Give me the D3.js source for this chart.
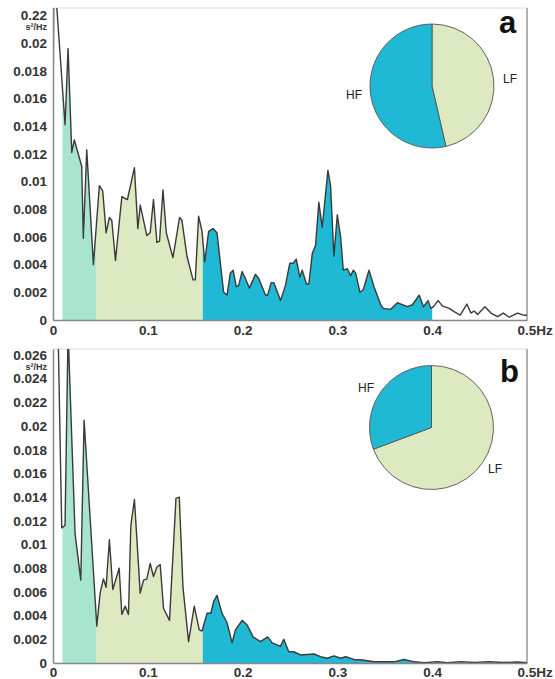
<!DOCTYPE html>
<html>
<head>
<meta charset="utf-8">
<script src="https://cdn.jsdelivr.net/npm/d3@7"></script>
<style>
  body { margin: 0; background: #fff; }
  text { font-family: "Liberation Sans", Arial, sans-serif; }
</style>
</head>
<body>
<script>
// spectrum a (frequency in Hz, PSD in s^2/Hz)
const freqA = [0, 0.001, 0.0127, 0.0159, 0.0198, 0.0225, 0.0303, 0.032, 0.0356, 0.0426, 0.0489, 0.0525, 0.056, 0.0595, 0.062, 0.0659, 0.0726, 0.0785, 0.0859, 0.0895, 0.092, 0.099, 0.1025, 0.106, 0.1096, 0.1124, 0.116, 0.1195, 0.1265, 0.1335, 0.136, 0.1413, 0.1477, 0.1501, 0.1536, 0.1572, 0.16, 0.1642, 0.1688, 0.173, 0.18, 0.1836, 0.1871, 0.19, 0.1934, 0.1959, 0.1995, 0.203, 0.2072, 0.2135, 0.217, 0.2241, 0.2265, 0.2301, 0.2329, 0.24, 0.2452, 0.2498, 0.2534, 0.2566, 0.2604, 0.2629, 0.2674, 0.2699, 0.2735, 0.277, 0.2804, 0.284, 0.29, 0.2928, 0.2963, 0.2999, 0.3034, 0.3062, 0.3105, 0.314, 0.3168, 0.3192, 0.3238, 0.3274, 0.3333, 0.3386, 0.3457, 0.3485, 0.3562, 0.3633, 0.3686, 0.3739, 0.3792, 0.3862, 0.3908, 0.3957, 0.3985, 0.4014, 0.4062, 0.4109, 0.4179, 0.4231, 0.4295, 0.4366, 0.4408, 0.4443, 0.4479, 0.4556, 0.462, 0.469, 0.475, 0.4813, 0.4902, 0.4971, 0.5];
const psdA = [0.0149, 0.0255, 0.0141, 0.0196, 0.0121, 0.013, 0.0111, 0.0059, 0.0123, 0.004, 0.0097, 0.0093, 0.0063, 0.0074, 0.0072, 0.0043, 0.0089, 0.0087, 0.011, 0.0066, 0.0083, 0.0061, 0.0063, 0.0087, 0.0056, 0.0057, 0.0094, 0.0063, 0.0045, 0.0074, 0.0072, 0.0046, 0.0029, 0.0029, 0.0075, 0.0064, 0.0042, 0.0064, 0.0066, 0.0063, 0.002, 0.0018, 0.0034, 0.0036, 0.0024, 0.0025, 0.0035, 0.003, 0.0023, 0.0033, 0.003, 0.0018, 0.0018, 0.0027, 0.0027, 0.0014, 0.0025, 0.0041, 0.0041, 0.0044, 0.0031, 0.0036, 0.0026, 0.0026, 0.0048, 0.0054, 0.0085, 0.0067, 0.0108, 0.0097, 0.0046, 0.0076, 0.006, 0.0036, 0.0037, 0.0032, 0.0036, 0.0034, 0.002, 0.0022, 0.0036, 0.0024, 0.0011, 0.00084, 0.00077, 0.00125, 0.0011, 0.00096, 0.0011, 0.0018, 0.00096, 0.0014, 0.00084, 0.00096, 0.0014, 0.001, 0.00084, 0.0006, 0.00036, 0.00115, 0.0005, 0.00065, 0.0004, 0.00096, 0.0005, 0.00024, 0.0005, 0.0002, 0.0005, 0.00034, 0.00034];

// spectrum b
const freqB = [0, 0.004, 0.0092, 0.0127, 0.0159, 0.0233, 0.0293, 0.0328, 0.0462, 0.0497, 0.0532, 0.056, 0.0595, 0.0631, 0.0698, 0.0726, 0.0761, 0.0796, 0.0821, 0.0859, 0.092, 0.0955, 0.099, 0.1025, 0.106, 0.1096, 0.1131, 0.1166, 0.1229, 0.1297, 0.1332, 0.1371, 0.143, 0.149, 0.1543, 0.1572, 0.1625, 0.1665, 0.1695, 0.173, 0.1783, 0.1836, 0.1889, 0.1924, 0.1995, 0.2048, 0.2111, 0.2188, 0.2265, 0.2312, 0.24, 0.2434, 0.2487, 0.254, 0.2611, 0.2752, 0.2822, 0.2893, 0.2963, 0.3034, 0.3087, 0.3174, 0.3263, 0.3386, 0.3597, 0.3703, 0.3809, 0.3914, 0.4056, 0.4162, 0.43, 0.445, 0.46, 0.475, 0.49, 0.5];
const psdB = [0.03, 0.034, 0.0114, 0.0116, 0.028, 0.0109, 0.007, 0.0205, 0.0031, 0.0059, 0.0071, 0.0064, 0.0104, 0.0062, 0.008, 0.0041, 0.0048, 0.0041, 0.0116, 0.0138, 0.0059, 0.007, 0.0071, 0.0084, 0.0073, 0.0081, 0.0083, 0.0046, 0.0036, 0.0139, 0.014, 0.0064, 0.0018, 0.0048, 0.0028, 0.0027, 0.0042, 0.0042, 0.0052, 0.0057, 0.0042, 0.0034, 0.0017, 0.0028, 0.0036, 0.0032, 0.0022, 0.0018, 0.0022, 0.0017, 0.0014, 0.002, 0.00095, 0.00095, 0.00068, 0.00076, 0.00053, 0.0004, 0.0006, 0.0004, 0.00053, 0.0003, 0.00025, 0.0001, 0.0001, 0.0003, 0.0001, 0.00003, 0.0001, 0.00003, 0.0001, 0.00005, 0.0001, 0.00004, 0.00008, 0.00003];

// frequency bands
const bandNames = ["VLF", "LF", "HF"];
const bandLo = [0.01, 0.046, 0.158];
const bandHi = [0.046, 0.158, 0.4];
const bandColors = ["#a8e5cf", "#dde9c0", "#1fb9d6"];

// pie shares (percent)
const pieLabels = ["LF", "HF"];
const pieA = [46.4, 53.6];
const pieB = [69.3, 30.7];
const pieColors = ["#dde9c0", "#1fb9d6"];

// ticks
const xTicks = [0, 0.1, 0.2, 0.3, 0.4, 0.5];
const xTickLabels = ["0", "0.1", "0.2", "0.3", "0.4", "0.5Hz"];
const yTicksA = [0, 0.002, 0.004, 0.006, 0.008, 0.01, 0.012, 0.014, 0.016, 0.018, 0.02, 0.022];
const yTickLabelsA = ["0", "0.002", "0.004", "0.006", "0.008", "0.01", "0.012", "0.014", "0.016", "0.018", "0.02", "0.22"];
const yTicksB = [0, 0.002, 0.004, 0.006, 0.008, 0.01, 0.012, 0.014, 0.016, 0.018, 0.02, 0.022, 0.024, 0.026];
const yTickLabelsB = ["0", "0.002", "0.004", "0.006", "0.008", "0.01", "0.012", "0.014", "0.016", "0.018", "0.02", "0.022", "0.024", "0.026"];

const width = 555, height = 679;
const svg = d3.select("body").append("svg")
    .attr("width", width)
    .attr("height", height);

const left = 53, right = 527;

function drawPanel(id, freq, psd, top, bottom, yMax, yTicks, yLabels, xPad, pie, pieCenter, labelPos, letter, letterPos) {
  const x = d3.scaleLinear().domain([0, 0.5]).range([left, right]);
  const y = d3.scaleLinear().domain([0, yMax]).range([bottom, top]);
  const data = freq.map((f, i) => [f, psd[i]]);
  const g = svg.append("g");

  const defs = g.append("defs");
  defs.append("clipPath").attr("id", id + "-plot")
    .append("rect").attr("x", left).attr("y", top)
    .attr("width", right - left).attr("height", bottom - top);
  bandNames.forEach((b, i) => {
    defs.append("clipPath").attr("id", id + "-" + b)
      .append("rect").attr("x", x(bandLo[i])).attr("y", top)
      .attr("width", x(bandHi[i]) - x(bandLo[i])).attr("height", bottom - top);
  });

  const area = d3.area().x(d => x(d[0])).y0(y(0)).y1(d => y(d[1]));
  const line = d3.line().x(d => x(d[0])).y(d => y(d[1]));

  // filled bands
  bandNames.forEach((b, i) => {
    g.append("path").datum(data)
      .attr("d", area)
      .attr("fill", bandColors[i])
      .attr("clip-path", "url(#" + id + "-" + b + ")");
  });

  // frame
  g.append("line").attr("x1", left).attr("x2", right).attr("y1", top).attr("y2", top)
    .attr("stroke", "#dcdcdc").attr("stroke-width", 1);
  g.append("line").attr("x1", right).attr("x2", right).attr("y1", top).attr("y2", bottom)
    .attr("stroke", "#999").attr("stroke-width", 1.5);

  // spectrum line
  g.append("path").datum(data)
    .attr("d", line)
    .attr("fill", "none")
    .attr("stroke", "#3a3a3a")
    .attr("stroke-width", 1.4)
    .attr("stroke-linejoin", "round")
    .attr("clip-path", "url(#" + id + "-plot)");

  // axes
  const yAxis = d3.axisLeft(y).tickValues(yTicks)
    .tickFormat((d, i) => yLabels[i]).tickSize(0).tickPadding(6);
  const ya = g.append("g").attr("transform", `translate(${left},0)`).call(yAxis);
  ya.select(".domain").attr("stroke", "#888").attr("stroke-width", 1.5);
  ya.selectAll("text").attr("font-size", 13.5).attr("font-weight", "bold").attr("fill", "#333")
    .attr("font-family", "Liberation Sans, Arial, sans-serif");

  const xAxis = d3.axisBottom(x).tickValues(xTicks)
    .tickFormat((d, i) => xTickLabels[i]).tickSize(0).tickPadding(xPad);
  const xa = g.append("g").attr("transform", `translate(0,${bottom})`).call(xAxis);
  xa.select(".domain").attr("stroke", "#888").attr("stroke-width", 1.5);
  xa.selectAll("text").attr("font-size", 13.5).attr("font-weight", "bold").attr("fill", "#333")
    .attr("font-family", "Liberation Sans, Arial, sans-serif");
  xa.selectAll(".tick").filter(d => d === 0.5).select("text")
    .attr("text-anchor", "start").attr("x", -10);

  // unit
  g.append("text").attr("x", left - 6).attr("y", y(yTicks[yTicks.length - 1]) + 15)
    .attr("text-anchor", "end").attr("font-size", 9).attr("font-weight", "bold").attr("fill", "#333")
    .text("s²/Hz");

  // pie
  const arcs = d3.pie().sort(null)(pie);
  const arc = d3.arc().innerRadius(0).outerRadius(62);
  const pg = g.append("g").attr("transform", `translate(${pieCenter[0]},${pieCenter[1]})`);
  pg.selectAll("path").data(arcs).join("path")
    .attr("d", arc)
    .attr("fill", (d, i) => pieColors[i])
    .attr("stroke", "#555")
    .attr("stroke-width", 0.9);
  pieLabels.forEach((l, i) => {
    g.append("text").attr("x", labelPos[i][0]).attr("y", labelPos[i][1])
      .attr("font-size", 12).attr("fill", "#222").text(l);
  });

  g.append("text").attr("x", letterPos[0]).attr("y", letterPos[1])
    .attr("font-size", 31).attr("font-weight", "bold").attr("fill", "#111")
    .text(letter);
}

drawPanel("a", freqA, psdA, 8, 320, 0.02253, yTicksA, yTickLabelsA, 5,
  pieA, [432, 86], [[503, 83], [346, 99]], "a", [499, 33]);
drawPanel("b", freqB, psdB, 349, 663, 0.0265, yTicksB, yTickLabelsB, 4,
  pieB, [431.5, 427.5], [[488, 473], [358, 392]], "b", [500, 382]);
</script>
</body>
</html>
